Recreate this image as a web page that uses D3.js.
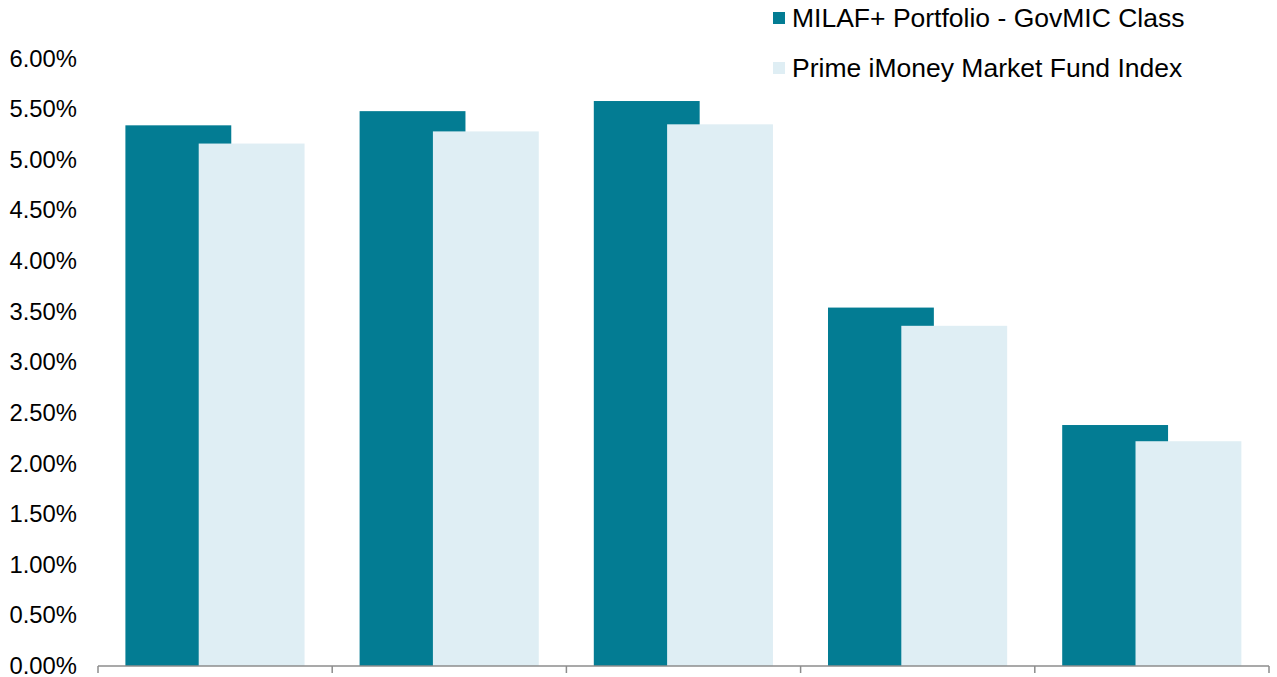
<!DOCTYPE html>
<meta charset="utf-8">
<style>
body { margin: 0; background: #fff; }
text { font-family: Arial, 'Liberation Sans', sans-serif; fill: #000; }
</style>
<body>
<svg width="1277" height="677"></svg>
<script src="https://cdnjs.cloudflare.com/ajax/libs/d3/7.8.5/d3.min.js"></script>
<script>

// chart data
var categories = ["Period 1", "Period 2", "Period 3", "Period 4", "Period 5"];
var seriesNames = ["MILAF+ Portfolio - GovMIC Class", "Prime iMoney Market Fund Index"];
var milafValues = [5.34, 5.48, 5.58, 3.54, 2.38];
var primeValues = [5.16, 5.28, 5.35, 3.36, 2.22];
var yTicks = [0, 0.5, 1, 1.5, 2, 2.5, 3, 3.5, 4, 4.5, 5, 5.5, 6];
var colors = ["#037c93", "#dfeef4"];

var svg = d3.select("svg");

var x = d3.scaleBand()
    .domain(categories)
    .range([98, 1269])
    .padding(0);

var y = d3.scaleLinear()
    .domain([0, 6])
    .range([666, 58.5]);

// bars overlap inside each group: offsets as fraction of the band
var barW = x.bandwidth() * 0.452,
    offsets = [x.bandwidth() * 0.117, x.bandwidth() * 0.43];

var series = [milafValues, primeValues];

series.forEach(function(vals, s) {
  svg.append("g")
    .selectAll("rect")
    .data(vals)
    .enter()
    .append("rect")
      .attr("x", (d, i) => x(categories[i]) + offsets[s])
      .attr("y", d => y(d))
      .attr("width", barW)
      .attr("height", d => y(0) - y(d))
      .attr("fill", colors[s]);
});

// y labels, no axis line
svg.append("g")
  .selectAll("text")
  .data(yTicks)
  .enter()
  .append("text")
    .attr("x", 77)
    .attr("y", d => y(d))
    .attr("dy", "0.34em")
    .attr("text-anchor", "end")
    .attr("font-size", 23.8)
    .text(d => d3.format(".2f")(d) + "%");

// x axis: line with ticks at the group edges, no labels
var xAxis = svg.append("g").attr("transform", "translate(0,666)");
xAxis.append("line")
    .attr("x1", 98).attr("x2", 1269)
    .attr("stroke", "#8c8c8c").attr("stroke-width", 1.5);
var edges = categories.map(c => x(c)).concat([x.range()[1]]);
xAxis.selectAll(".tk")
  .data(edges)
  .enter()
  .append("line")
    .attr("class", "tk")
    .attr("x1", d => d).attr("x2", d => d)
    .attr("y1", 0).attr("y2", 7)
    .attr("stroke", "#8c8c8c").attr("stroke-width", 1.5);

// legend
var legend = svg.append("g")
  .selectAll("g")
  .data(seriesNames)
  .enter()
  .append("g")
    .attr("transform", (d, i) => "translate(773," + (12 + i * 50) + ")");

legend.append("rect")
    .attr("width", 12).attr("height", 12)
    .attr("fill", (d, i) => colors[i]);

legend.append("text")
    .attr("x", 19)
    .attr("y", 15)
    .attr("font-size", 26.5)
    .text(d => d);

</script>
</body>
